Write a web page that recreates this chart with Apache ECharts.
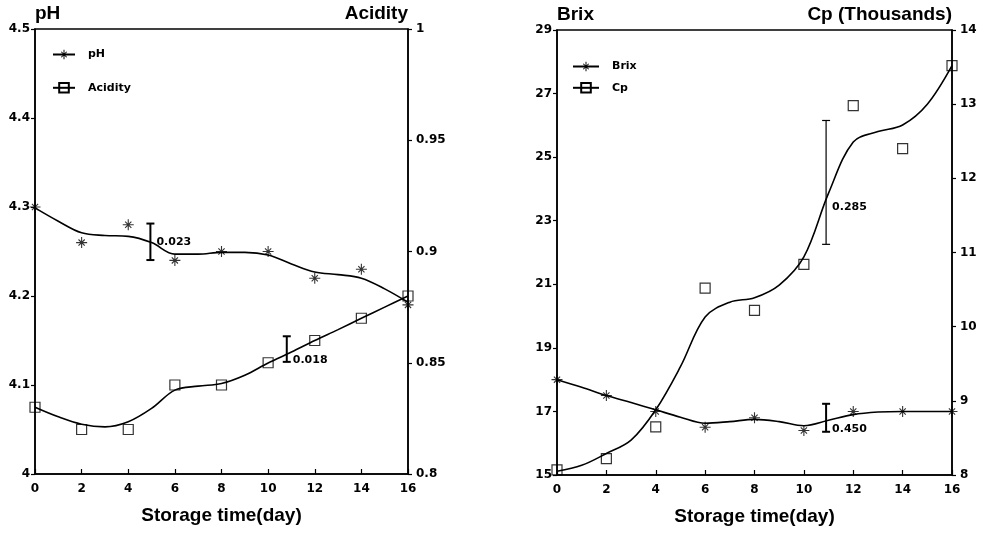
<!DOCTYPE html>
<html><head><meta charset="utf-8">
<script src="https://cdn.jsdelivr.net/npm/echarts@6/dist/echarts.min.js"></script>
<style>html,body{margin:0;padding:0;background:#fff}#c{width:986px;height:534px}</style>
</head><body><div id="c"></div>
<script>
// ---- data ----
const days = [0, 2, 4, 6, 8, 10, 12, 14, 16];
const curveDays = [0, 1, 2, 3, 4, 5, 6, 7, 8, 9, 10, 11, 12, 13, 14, 15, 16];
const phPoints = [4.30, 4.26, 4.28, 4.24, 4.25, 4.25, 4.22, 4.23, 4.19];
const phCurve = [4.299, 4.284, 4.271, 4.268, 4.267, 4.260, 4.247, 4.247, 4.249, 4.249, 4.246, 4.236, 4.227, 4.224, 4.220, 4.208, 4.193];
const acidityPoints = [0.83, 0.82, 0.82, 0.84, 0.84, 0.85, 0.86, 0.87, 0.88];
const acidityCurve = [0.830, 0.8257, 0.8224, 0.8212, 0.8235, 0.8295, 0.8377, 0.8395, 0.8407, 0.8444, 0.8499, 0.8548, 0.8600, 0.8649, 0.8700, 0.8750, 0.8800];
const brixPoints = [18.0, 17.5, 17.0, 16.5, 16.8, 16.4, 17.0, 17.0, 17.0];
const brixCurve = [18.0, 17.76, 17.5, 17.28, 17.05, 16.82, 16.63, 16.68, 16.75, 16.68, 16.55, 16.72, 16.9, 16.98, 17.0, 17.0, 17.0];
const cpPoints = [8.07, 8.22, 8.65, 10.52, 10.22, 10.84, 12.98, 12.40, 13.52];
const cpCurve = [8.05, 8.13, 8.29, 8.47, 8.88, 9.46, 10.13, 10.33, 10.39, 10.56, 10.94, 11.80, 12.49, 12.63, 12.72, 13.00, 13.52];
const errBarDays = [4.95, 10.8, 10.9, 10.9];
const errBarLow = [4.2404, 0.8504, 11.11, 16.36];
const errBarHigh = [4.2814, 0.8619, 12.78, 17.24];
const errBarLabels = ['0.023', '0.018', '0.285', '0.450'];
const xTitle = 'Storage time(day)';

// ---- helpers / styles ----
const pair = (xs, ys) => xs.map((x, i) => [x, ys[i]]);
const STAR = 'path://M-1,-10L1,-10L1,10L-1,10Z M-10,-1L10,-1L10,1L-10,1Z M-6.37,-4.95L-4.95,-6.37L6.37,4.95L4.95,6.37Z M-4.95,6.37L-6.37,4.95L4.95,-6.37L6.37,-4.95Z';
const SANS = 'Liberation Sans';
const WIDE = 'DejaVu Sans';
const errLabelAnchor = [0.5, 0.95, 0.7, 0.9];
const errLineWidth = [2, 2, 1.2, 2];

function xAxis(gi) {
  return {
    type: 'value', gridIndex: gi, min: 0, max: 16, interval: 2,
    axisLine: { lineStyle: { color: '#000', width: 1.5 } },
    axisTick: { inside: true, length: 5, lineStyle: { color: '#000', width: 1.2 } },
    axisLabel: { color: '#000', fontFamily: WIDE, fontWeight: 'bold', fontSize: 12, margin: 9 },
    splitLine: { show: false },
    name: xTitle, nameLocation: 'middle', nameGap: 32,
    nameTextStyle: { color: '#000', fontFamily: SANS, fontWeight: 'bold', fontSize: 19 }
  };
}
function yAxis(gi, pos, min, max, interval, name) {
  return {
    type: 'value', gridIndex: gi, position: pos, min: min, max: max, interval: interval,
    axisLine: { show: true, lineStyle: { color: '#000', width: 1.5 } },
    axisTick: { show: true, inside: false, length: 4, lineStyle: { color: '#000', width: 1.2 } },
    axisLabel: { color: '#000', fontFamily: WIDE, fontWeight: 'bold', fontSize: 12, margin: pos === 'left' ? 5 : 8,
      formatter: v => String(+v.toFixed(3)) },
    splitLine: { show: false },
    name: name, nameLocation: 'end', nameGap: 6,
    nameTextStyle: { color: '#000', fontFamily: SANS, fontWeight: 'bold', fontSize: 19,
      align: pos === 'left' ? 'left' : 'right', verticalAlign: 'bottom' }
  };
}
function curve(name, xi, yi, ys, symbol) {
  const isRect = symbol === 'rect';
  return {
    name: name, type: 'line', xAxisIndex: xi, yAxisIndex: yi,
    data: pair(curveDays, ys), smooth: 0.35, showSymbol: false,
    symbol: symbol, symbolSize: 10,
    lineStyle: { color: '#000', width: 1.6 },
    itemStyle: isRect ? { color: 'rgba(255,255,255,0)', borderColor: '#000', borderWidth: 1.2 } : { color: '#000' },
    emphasis: { disabled: true }, silent: true, z: 2
  };
}
function points(name, xi, yi, ys, symbol) {
  const isRect = symbol === 'rect';
  return {
    name: name, type: 'scatter', xAxisIndex: xi, yAxisIndex: yi,
    data: pair(days, ys), symbol: symbol, symbolSize: isRect ? 10 : 11,
    itemStyle: isRect ? { color: 'rgba(255,255,255,0)', borderColor: '#000', borderWidth: 1.2 } : { color: '#000' },
    emphasis: { disabled: true }, silent: true, z: 3
  };
}
function errSeries(idx, xi, yi) {
  return {
    type: 'custom', xAxisIndex: xi, yAxisIndex: yi, silent: true, z: 4,
    data: [[errBarDays[idx], errBarLow[idx], errBarHigh[idx]]],
    encode: { x: 0, y: [1, 2] },
    renderItem: function (params, api) {
      const lo = api.coord([api.value(0), api.value(1)]);
      const hi = api.coord([api.value(0), api.value(2)]);
      const w = errLineWidth[idx];
      const cap = 4;
      const ly = hi[1] + (lo[1] - hi[1]) * errLabelAnchor[idx];
      const st = { stroke: '#000', lineWidth: w };
      return {
        type: 'group', children: [
          { type: 'line', shape: { x1: lo[0], y1: lo[1], x2: hi[0], y2: hi[1] }, style: st },
          { type: 'line', shape: { x1: lo[0] - cap, y1: lo[1], x2: lo[0] + cap, y2: lo[1] }, style: st },
          { type: 'line', shape: { x1: hi[0] - cap, y1: hi[1], x2: hi[0] + cap, y2: hi[1] }, style: st },
          { type: 'text', style: { text: errBarLabels[idx], x: lo[0] + 6, y: ly, fill: '#000',
              font: 'bold 11px "DejaVu Sans"', verticalAlign: 'middle', align: 'left' } }
        ]
      };
    }
  };
}
const legendText = { color: '#000', fontFamily: WIDE, fontWeight: 'bold', fontSize: 11, padding: [0, 0, 0, 8] };

const option = {
  animation: false,
  backgroundColor: '#fff',
  grid: [
    { left: 35, top: 29, width: 373, height: 445, show: true, borderColor: '#000', borderWidth: 1.5, backgroundColor: 'transparent' },
    { left: 557, top: 30, width: 395, height: 445, show: true, borderColor: '#000', borderWidth: 1.5, backgroundColor: 'transparent' }
  ],
  xAxis: [xAxis(0), xAxis(1)],
  yAxis: [
    yAxis(0, 'left', 4, 4.5, 0.1, 'pH'),
    yAxis(0, 'right', 0.8, 1, 0.05, 'Acidity'),
    yAxis(1, 'left', 15, 29, 2, 'Brix'),
    yAxis(1, 'right', 8, 14, 1, 'Cp (Thousands)')
  ],
  legend: [
    { data: ['pH', 'Acidity'], orient: 'vertical', left: 47, top: 44, itemWidth: 22, itemHeight: 12, itemGap: 22,
      selectedMode: false, textStyle: legendText },
    { data: ['Brix', 'Cp'], orient: 'vertical', left: 567, top: 56, itemWidth: 26, itemHeight: 12, itemGap: 10,
      selectedMode: false, textStyle: legendText }
  ],
  series: [
    curve('pH', 0, 0, phCurve, STAR),
    points('pH points', 0, 0, phPoints, STAR),
    curve('Acidity', 0, 1, acidityCurve, 'rect'),
    points('Acidity points', 0, 1, acidityPoints, 'rect'),
    curve('Brix', 1, 2, brixCurve, STAR),
    points('Brix points', 1, 2, brixPoints, STAR),
    curve('Cp', 1, 3, cpCurve, 'rect'),
    points('Cp points', 1, 3, cpPoints, 'rect'),
    errSeries(0, 0, 0),
    errSeries(1, 0, 1),
    errSeries(2, 1, 3),
    errSeries(3, 1, 2)
  ]
};
const chart = echarts.init(document.getElementById('c'), null, { renderer: 'canvas' });
chart.setOption(option);
</script>
</body></html>
